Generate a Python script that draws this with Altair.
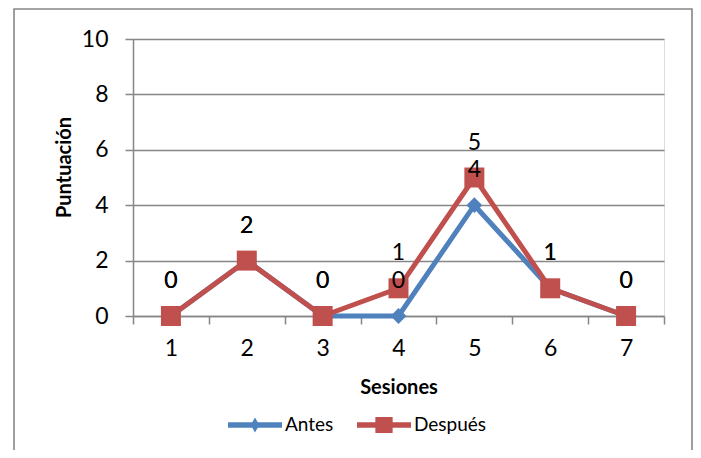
import altair as alt
import pandas as pd

# ---- data ----
sesiones = [1, 2, 3, 4, 5, 6, 7]
antes = [0, 2, 0, 0, 4, 1, 0]
despues = [0, 2, 0, 1, 5, 1, 0]
series = ["Antes", "Después"]
colors = ["#4F81BD", "#C0504D"]
y_ticks = [0, 2, 4, 6, 8, 10]

rows = []
for s, vals in zip(series, [antes, despues]):
    for x, v in zip(sesiones, vals):
        rows.append({"Sesiones": x, "Puntuación": v, "Serie": s})
df = pd.DataFrame(rows)

FONT = "Lato"
GRAY = "#868686"
W, H = 531, 277

# legend symbols: line + marker
antes_sym = "M-1,-0.1L1,-0.1L1,0.1L-1,0.1Z M0,-0.28L0.16,0L0,0.28L-0.16,0Z"
despues_sym = "M-1,-0.1L1,-0.1L1,0.1L-1,0.1Z M-0.32,-0.3L0.32,-0.3L0.32,0.3L-0.32,0.3Z"

x_enc = alt.X(
    "Sesiones:O",
    scale=alt.Scale(type="band", paddingInner=0, paddingOuter=0),
    axis=alt.Axis(
        title="Sesiones", tickBand="extent", labelAngle=0, grid=False,
        domainColor=GRAY, domainWidth=1.5, tickColor=GRAY, tickWidth=1.5, tickSize=8,
        labelFont=FONT, labelFontSize=23, labelColor="black", labelPadding=13,
        titleFont=FONT, titleFontSize=20, titleFontWeight="bold", titleColor="black",
        titleY=71, titleBaseline="middle",
    ),
)
y_enc = alt.Y(
    "Puntuación:Q",
    scale=alt.Scale(domain=[0, 10], nice=False),
    axis=alt.Axis(
        title="Puntuación", values=y_ticks, grid=True, gridColor=GRAY, gridWidth=1.3,
        domainColor=GRAY, domainWidth=1.5, tickColor=GRAY, tickWidth=1.5, tickSize=8,
        labelFont=FONT, labelFontSize=23, labelColor="black", labelPadding=17,
        titleFont=FONT, titleFontSize=20, titleFontWeight="bold", titleColor="black",
        titleX=-69, titleY=128, titleAlign="center", titleBaseline="middle",
    ),
)

base = alt.Chart(df)

border = alt.Chart(alt.Data(values=[{}])).mark_rect(
    filled=False, stroke=GRAY, strokeWidth=1.6, fill=None
).encode(x=alt.value(-119), x2=alt.value(559), y=alt.value(-30), y2=alt.value(440))

line_a = base.transform_filter(alt.datum.Serie == series[0]).mark_line(
    strokeWidth=5, color=colors[0]).encode(x=x_enc, y=y_enc)
line_d = base.transform_filter(alt.datum.Serie == series[1]).mark_line(
    strokeWidth=5, color=colors[1]).encode(x=x_enc, y=y_enc)
pts_a = base.transform_filter(alt.datum.Serie == series[0]).mark_point(
    shape="diamond", filled=True, size=250, opacity=1, color=colors[0]).encode(x=x_enc, y=y_enc)
pts_d = base.transform_filter(alt.datum.Serie == series[1]).mark_point(
    shape="square", filled=True, size=400, opacity=1, color=colors[1]).encode(x=x_enc, y=y_enc)
labels = base.mark_text(dy=-35, fontSize=23, font=FONT, color="black").encode(
    x=x_enc, y=y_enc, text="Puntuación:Q")

legend_layer = base.transform_filter("false").mark_point(filled=True, opacity=1).encode(
    color=alt.Color(
        "Serie:N", scale=alt.Scale(domain=series, range=colors),
        legend=alt.Legend(
            title=None, orient="none", legendX=95, legendY=376, direction="horizontal",
            symbolSize=2916, symbolStrokeWidth=0, symbolOffset=0, clipHeight=20,
            labelFont=FONT, labelFontSize=19, labelColor="black", labelOffset=3,
            columnPadding=23, padding=0,
        ),
    ),
    shape=alt.Shape("Serie:N", scale=alt.Scale(domain=series, range=[antes_sym, despues_sym])),
)

chart = alt.layer(border, line_a, pts_a, line_d, pts_d, labels, legend_layer).properties(
    width=W, height=H,
    autosize=alt.AutoSizeParams(type="none"),
    padding={"left": 125, "top": 31, "right": 29, "bottom": 134},
).configure_view(stroke=None).configure(background="white")

chart.save("out.html", embed_options={"renderer": "svg", "actions": False})
